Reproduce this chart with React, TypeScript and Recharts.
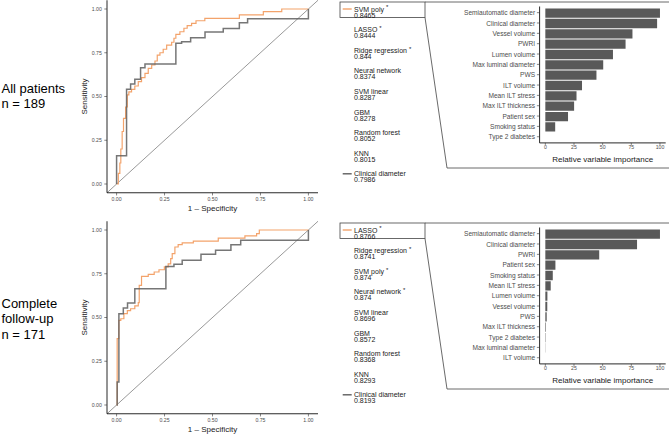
import React from 'react';
import { LineChart, Line, XAxis, YAxis, ReferenceLine, BarChart, Bar, Label } from 'recharts';

const FONT = '"Liberation Sans", Arial, Helvetica, sans-serif';
const ORANGE = '#F3A36B';
const GRAY = '#5e5e5e';

// ---------- ROC data (1 - specificity, sensitivity) ----------
const topModelFpr = [0, 0.009, 0.017, 0.022, 0.029, 0.036, 0.047, 0.056, 0.064, 0.078, 0.095, 0.113, 0.13, 0.148, 0.165, 0.183, 0.2, 0.212, 0.226, 0.243, 0.261, 0.287, 0.299, 0.309, 0.33, 0.351, 0.368, 0.391, 0.414, 0.46, 0.64, 0.765, 0.861, 1.0];
const topModelTpr = [0, 0.061, 0.12, 0.2, 0.3, 0.375, 0.44, 0.509, 0.527, 0.541, 0.56, 0.585, 0.608, 0.632, 0.661, 0.68, 0.703, 0.737, 0.75, 0.77, 0.794, 0.81, 0.833, 0.855, 0.87, 0.89, 0.905, 0.918, 0.933, 0.947, 0.966, 0.985, 1.0, 1.0];
const topClinFpr = [0, 0, 0.052, 0.073, 0.095, 0.125, 0.148, 0.309, 0.339, 0.386, 0.461, 0.556, 0.64, 0.683, 1.0];
const topClinTpr = [0, 0.162, 0.541, 0.571, 0.598, 0.665, 0.686, 0.804, 0.813, 0.836, 0.868, 0.889, 0.922, 0.945, 1.0];

const botModelFpr = [0, 0.003, 0.012, 0.022, 0.038, 0.056, 0.073, 0.095, 0.113, 0.118, 0.13, 0.165, 0.196, 0.221, 0.249, 0.269, 0.282, 0.29, 0.304, 0.321, 0.342, 0.4, 0.53, 0.669, 0.73, 0.744, 1.0];
const botModelTpr = [0, 0.379, 0.484, 0.493, 0.522, 0.539, 0.55, 0.566, 0.585, 0.684, 0.735, 0.747, 0.76, 0.773, 0.789, 0.807, 0.836, 0.865, 0.903, 0.916, 0.926, 0.937, 0.954, 0.966, 0.979, 1.0, 1.0];
const botClinFpr = [0, 0.003, 0.012, 0.035, 0.057, 0.095, 0.257, 0.299, 0.342, 0.44, 0.516, 0.596, 0.647, 1.0];
const botClinTpr = [0, 0.131, 0.522, 0.554, 0.583, 0.665, 0.792, 0.804, 0.827, 0.861, 0.884, 0.916, 0.941, 1.0];

const rocTicks = [0, 0.25, 0.5, 0.75, 1];

// ---------- Legend data ----------
const topModels = ['SVM poly', 'LASSO', 'Ridge regression', 'Neural network', 'SVM linear', 'GBM', 'Random forest', 'KNN', 'Clinical diameter'];
const topAucs = ['0.8465', '0.8444', '0.844', '0.8374', '0.8287', '0.8278', '0.8052', '0.8015', '0.7986'];
const topStars = [true, true, true, false, false, false, false, false, false];

const botModels = ['LASSO', 'Ridge regression', 'SVM poly', 'Neural network', 'SVM linear', 'GBM', 'Random forest', 'KNN', 'Clinical diameter'];
const botAucs = ['0.8766', '0.8741', '0.874', '0.874', '0.8696', '0.8572', '0.8368', '0.8293', '0.8193'];
const botStars = [true, true, true, true, false, false, false, false, false];

// ---------- Variable importance ----------
const topVars = ['Semiautomatic diameter', 'Clinical diameter', 'Vessel volume', 'PWRI', 'Lumen volume', 'Max luminal diameter', 'PWS', 'ILT volume', 'Mean ILT stress', 'Max ILT thickness', 'Patient sex', 'Smoking status', 'Type 2 diabetes'];
const topImp = [100, 97.5, 76, 70, 59, 50.5, 44.6, 32, 27.2, 25.1, 19.8, 8.6, 0];
const botVars = ['Semiautomatic diameter', 'Clinical diameter', 'PWRI', 'Patient sex', 'Smoking status', 'Mean ILT stress', 'Lumen volume', 'Vessel volume', 'PWS', 'Max ILT thickness', 'Type 2 diabetes', 'Max luminal diameter', 'ILT volume'];
const botImp = [100, 80, 47, 8.8, 6.5, 4.7, 1.8, 1.7, 1.2, 0.5, 0.3, 0.15, 0];
const impTicks = [0, 25, 50, 75, 100];

const topGroup = ['All patients', 'n = 189'];
const botGroup = ['Complete', 'follow-up', 'n = 171'];

const pts = (xs: number[], ys: number[]) => xs.map((x, i) => ({ x, y: ys[i] }));
const bars = (names: string[], vals: number[]) => names.map((name, i) => ({ name, value: vals[i] }));

const xTitle = (text: string, dy: number) => (props: any) => {
  const vb = props.viewBox || {};
  return (
    <text x={vb.x + vb.width / 2} y={vb.y + dy} textAnchor="middle" dominantBaseline="central" fontSize={8} fill="#1a1a1a" fontFamily={FONT}>
      {text}
    </text>
  );
};
const yTitle = (text: string, fromRight: number) => (props: any) => {
  const vb = props.viewBox || {};
  const x = vb.x + vb.width - fromRight;
  const y = vb.y + vb.height / 2;
  return (
    <text x={x} y={y} transform={`rotate(-90, ${x}, ${y})`} textAnchor="middle" dominantBaseline="central" fontSize={8} fill="#1a1a1a" fontFamily={FONT}>
      {text}
    </text>
  );
};

const CatTick = (props: any) => {
  const { x, y, payload } = props;
  return (
    <text x={x} y={y} textAnchor="end" dominantBaseline="central" fontSize={6.6} fill="#4d4d4d" fontFamily={FONT}>
      {payload.value}
    </text>
  );
};

const tickStyle = { fontSize: 5.2, fill: '#4d4d4d', fontFamily: FONT };

function RocPanel({ model, clin }: { model: any[]; clin: any[] }) {
  return (
    <LineChart width={330} height={216} margin={{ top: 0.25, right: 12, bottom: 0, left: 0 }}>
      <XAxis
        type="number"
        dataKey="x"
        domain={[-0.05, 1.05]}
        ticks={rocTicks}
        allowDataOverflow
        tickFormatter={(v: number) => v.toFixed(2)}
        height={23.25}
        tickSize={2.7}
        tickMargin={1.8}
        tick={tickStyle}
        tickLine={{ stroke: '#333', strokeWidth: 0.6 }}
        axisLine={{ stroke: '#111', strokeWidth: 0.9 }}
      >
        <Label content={xTitle('1 – Specificity', 15.8)} />
      </XAxis>
      <YAxis
        type="number"
        domain={[-0.05, 1.05]}
        ticks={rocTicks}
        allowDataOverflow
        tickFormatter={(v: number) => v.toFixed(2)}
        width={107}
        tickSize={2.7}
        tickMargin={2.4}
        tick={tickStyle}
        tickLine={{ stroke: '#333', strokeWidth: 0.6 }}
        axisLine={{ stroke: '#111', strokeWidth: 0.9 }}
      >
        <Label content={yTitle('Sensitivity', 23)} />
      </YAxis>
      <ReferenceLine segment={[{ x: -0.05, y: -0.05 }, { x: 1.05, y: 1.05 }]} stroke="#333" strokeWidth={0.5} />
      <Line data={model} dataKey="y" type="stepAfter" stroke={ORANGE} strokeWidth={1.2} dot={false} isAnimationActive={false} />
      <Line data={clin} dataKey="y" type="stepAfter" stroke={GRAY} strokeOpacity={0.85} strokeWidth={1.5} dot={false} isAnimationActive={false} />
    </LineChart>
  );
}

function ImpPanel({ data }: { data: any[] }) {
  return (
    <BarChart layout="vertical" width={249} height={175} data={data} margin={{ top: 6.5, right: 3.3, bottom: 0, left: 0 }}>
      <XAxis
        type="number"
        dataKey="value"
        domain={[-5, 105]}
        ticks={impTicks}
        allowDataOverflow
        height={32.1}
        tickSize={2}
        tickMargin={0.6}
        tick={tickStyle}
        tickLine={{ stroke: '#333', strokeWidth: 0.6 }}
        axisLine={{ stroke: '#111', strokeWidth: 0.9 }}
      >
        <Label content={xTitle('Relative variable importance', 16.1)} />
      </XAxis>
      <YAxis
        type="category"
        dataKey="name"
        width={119.6}
        interval={0}
        padding={{ top: 1, bottom: 1 }}
        tickSize={2.7}
        tickMargin={1.8}
        tick={<CatTick />}
        tickLine={{ stroke: '#333', strokeWidth: 0.6 }}
        axisLine={{ stroke: '#111', strokeWidth: 0.9 }}
      />
      <Bar dataKey="value" fill="#595959" barSize={9.3} isAnimationActive={false} />
    </BarChart>
  );
}

function Legend({ names, aucs, stars }: { names: string[]; aucs: string[]; stars: boolean[] }) {
  return (
    <g fontFamily={FONT} fontSize={7} fill="#1a1a1a">
      {names.map((n, i) => {
        const y = 9 + i * 20.6;
        const key = i === 0 ? ORANGE : i === names.length - 1 ? GRAY : null;
        return (
          <g key={n + i}>
            {key && <line x1={342.7} x2={351.7} y1={y} y2={y} stroke={key} strokeWidth={1.4} />}
            <text x={354} y={y} dominantBaseline="central">
              {n}
              {stars[i] && (
                <tspan dx={2} dy={-1.6} fontSize={6}>
                  *
                </tspan>
              )}
            </text>
            <text x={354} y={y + 6} dominantBaseline="central">
              {aucs[i]}
            </text>
          </g>
        );
      })}
    </g>
  );
}

function Callout() {
  return (
    <g stroke="#444" strokeWidth={0.8} fill="none">
      <rect x={340} y={2} width={85} height={15.5} />
      <line x1={425} y1={2} x2={669} y2={2} />
      <line x1={425} y1={17.5} x2={447} y2={168} />
      <line x1={447} y1={168} x2={669} y2={168} />
    </g>
  );
}

function Row({ top, model, clin, names, aucs, stars, vars, group, groupCenter }: any) {
  return (
    <>
      <div style={{ position: 'absolute', left: 0, top }}>
        <RocPanel model={model} clin={clin} />
      </div>
      <div style={{ position: 'absolute', left: 420, top }}>
        <ImpPanel data={vars} />
      </div>
      <svg width={669} height={216} style={{ position: 'absolute', left: 0, top, pointerEvents: 'none', overflow: 'visible' }}>
        <Callout />
        <Legend names={names} aucs={aucs} stars={stars} />
        <g fontFamily={FONT} fontSize={13} fill="#000">
          {group.map((g: string, i: number) => (
            <text key={g} x={1.5} y={groupCenter + (i - (group.length - 1) / 2) * 15.8} dominantBaseline="central">
              {g}
            </text>
          ))}
        </g>
      </svg>
    </>
  );
}

export default function App() {
  return (
    <div style={{ position: 'absolute', left: 0, top: 0, width: 669, height: 435, background: '#fff', overflow: 'hidden', fontFamily: FONT }}>
      <Row
        top={0}
        model={pts(topModelFpr, topModelTpr)}
        clin={pts(topClinFpr, topClinTpr)}
        names={topModels}
        aucs={topAucs}
        stars={topStars}
        vars={bars(topVars, topImp)}
        group={topGroup}
        groupCenter={96}
      />
      <Row
        top={221}
        model={pts(botModelFpr, botModelTpr)}
        clin={pts(botClinFpr, botClinTpr)}
        names={botModels}
        aucs={botAucs}
        stars={botStars}
        vars={bars(botVars, botImp)}
        group={botGroup}
        groupCenter={97.8}
      />
    </div>
  );
}
